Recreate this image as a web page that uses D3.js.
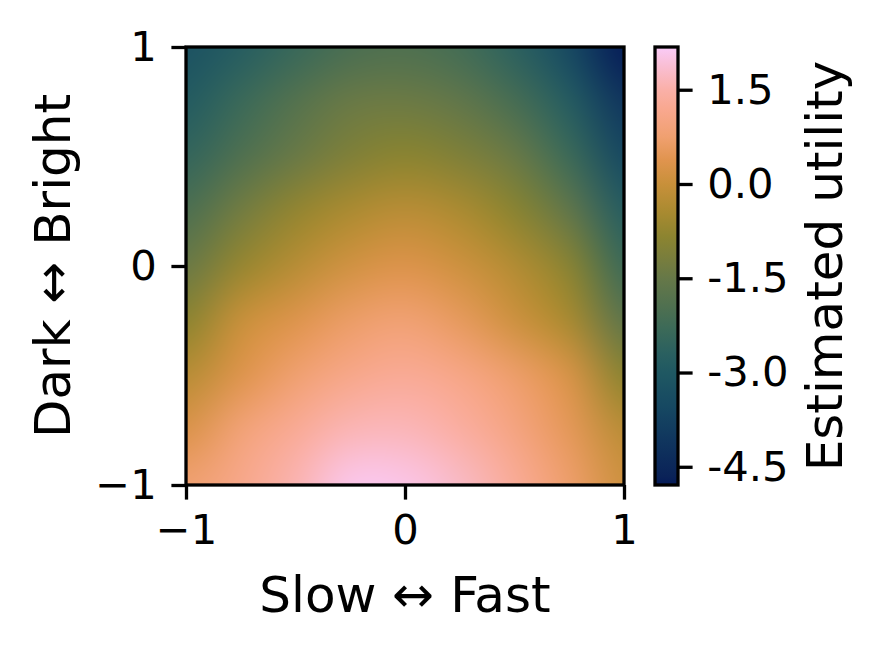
<!DOCTYPE html>
<html>
<head>
<meta charset="utf-8">
<script src="https://cdn.jsdelivr.net/npm/d3@7"></script>
<style>
  body { margin: 0; background: #fff; }
  svg { display: block; font-family: "DejaVu Sans", sans-serif; }
</style>
</head>
<body>
<svg width="882" height="651"></svg>
<script>
// grid of estimated utility, rows go from top (Bright) to bottom (Dark)
var xGrid = [-1, -0.75, -0.5, -0.25, 0, 0.25, 0.5, 0.75, 1];
var yGrid = [1, 0.75, 0.5, 0.25, 0, -0.25, -0.5, -0.75, -1];
var utility = [
    [-3.2, -2.8, -2.4, -2.05, -1.95, -2.15, -2.65, -3.5, -4.75],
    [-2.9, -2.35, -1.85, -1.45, -1.4, -1.6, -2.1, -2.85, -4.1],
    [-2.5, -1.95, -1.45, -1.05, -0.85, -1.05, -1.45, -2.3, -3.5],
    [-2.0, -1.3, -0.75, -0.4, -0.2, -0.4, -0.85, -1.6, -2.8],
    [-1.45, -0.7, -0.25, 0.15, 0.33, 0.1, -0.3, -0.9, -2.3],
    [-0.85, 0.0, 0.35, 0.65, 0.8, 0.55, 0.1, -0.45, -1.65],
    [-0.25, 0.35, 0.75, 1.12, 1.27, 1.08, 0.7, 0.25, -0.85],
    [0.3, 0.85, 1.27, 1.62, 1.66, 1.42, 1.0, 0.5, -0.2],
    [0.75, 1.12, 1.58, 2.08, 2.05, 1.76, 1.3, 0.7, 0.1]
];

// colour map (batlow-like)
var cmapValues = [-4.79, -4.66, -4.07, -3.55, -3.0, -2.7, -2.3, -1.95, -1.5, -1.16,
                  -0.84, -0.46, 0.0, 0.38, 0.75, 1.2, 1.5, 1.9, 2.18];
var cmapColors = ["#041a58", "#0a2258", "#10365e", "#164862", "#1f5862", "#2a6060",
                  "#3c6a58", "#4f7050", "#667848", "#7a7e3c", "#8c8430", "#a88a30",
                  "#c8903a", "#e0944e", "#f0a070", "#f9a890", "#fab0a8", "#f9bfd6", "#facbf8"];

var axisTicks = [-1, 0, 1];
var cbarTicks = [1.5, 0, -1.5, -3, -4.5];
var cbarRange = [-4.79, 2.18];

var plot = { left: 186, right: 624, top: 47, bottom: 485 };
var cbar = { left: 655, right: 678 };
var lw = 3.3;
var tickLen = 14.6;
var tickFont = 41.7;
var labelFont = 50;

var svg = d3.select("svg");

var x = d3.scaleLinear().domain([-1, 1]).range([plot.left, plot.right]);
var y = d3.scaleLinear().domain([-1, 1]).range([plot.bottom, plot.top]);
var color = d3.scaleLinear()
    .domain(cmapValues)
    .range(cmapColors)
    .interpolate(d3.interpolateRgb)
    .clamp(true);

// heat map: one pixel per grid value, then smoothed when scaled up
var nx = xGrid.length, ny = yGrid.length;
var src = document.createElement("canvas");
src.width = nx;
src.height = ny;
var sctx = src.getContext("2d");
var img = sctx.createImageData(nx, ny);
utility.forEach(function (row, j) {
    row.forEach(function (v, i) {
        var c = d3.rgb(color(v));
        var k = 4 * (j * nx + i);
        img.data[k] = c.r;
        img.data[k + 1] = c.g;
        img.data[k + 2] = c.b;
        img.data[k + 3] = 255;
    });
});
sctx.putImageData(img, 0, 0);

var pw = x(xGrid[nx - 1]) - x(xGrid[0]);
var ph = y(yGrid[ny - 1]) - y(yGrid[0]);
var big = document.createElement("canvas");
big.width = Math.round(pw);
big.height = Math.round(ph);
var bctx = big.getContext("2d");
bctx.imageSmoothingEnabled = true;
bctx.imageSmoothingQuality = "high";
var cw = pw / (nx - 1), ch = ph / (ny - 1);
bctx.drawImage(src, -cw / 2, -ch / 2, pw + cw, ph + ch);

svg.append("image")
    .attr("x", x(-1))
    .attr("y", y(1))
    .attr("width", pw)
    .attr("height", ph)
    .attr("preserveAspectRatio", "none")
    .attr("href", big.toDataURL());

// axes
var xAxis = d3.axisBottom(x).tickValues(axisTicks).tickSize(tickLen).tickPadding(tickLen)
    .tickFormat(d3.format("d"));
var yAxis = d3.axisLeft(y).tickValues(axisTicks).tickSize(tickLen).tickPadding(tickLen)
    .tickFormat(d3.format("d"));

function styleAxis(g) {
    g.select(".domain").remove();
    g.selectAll(".tick line").attr("stroke", "#000").attr("stroke-width", lw);
    g.selectAll(".tick text")
        .attr("fill", "#000")
        .style("font-size", tickFont + "px")
        .style("font-family", "DejaVu Sans");
}

svg.append("g")
    .attr("transform", "translate(0," + plot.bottom + ")")
    .call(xAxis)
    .call(styleAxis);

svg.append("g")
    .attr("transform", "translate(" + plot.left + ",0)")
    .call(yAxis)
    .call(styleAxis);

svg.append("rect")
    .attr("x", plot.left)
    .attr("y", plot.top)
    .attr("width", plot.right - plot.left)
    .attr("height", plot.bottom - plot.top)
    .attr("fill", "none")
    .attr("stroke", "#000")
    .attr("stroke-width", lw);

svg.append("text")
    .attr("x", (plot.left + plot.right) / 2)
    .attr("y", 612)
    .attr("text-anchor", "middle")
    .style("font-size", labelFont + "px")
    .text("Slow \u2194 Fast");

svg.append("text")
    .attr("transform", "translate(70," + (plot.top + plot.bottom) / 2 + ") rotate(-90)")
    .attr("text-anchor", "middle")
    .style("font-size", labelFont + "px")
    .text("Dark \u2194 Bright");

// colour bar
var cy = d3.scaleLinear().domain(cbarRange).range([plot.bottom, plot.top]);

var grad = svg.append("defs").append("linearGradient")
    .attr("id", "cbar-grad")
    .attr("x1", 0).attr("y1", 1)
    .attr("x2", 0).attr("y2", 0);
grad.selectAll("stop")
    .data(cmapValues)
    .enter().append("stop")
    .attr("offset", function (d) { return (d - cbarRange[0]) / (cbarRange[1] - cbarRange[0]); })
    .attr("stop-color", function (d) { return color(d); });

svg.append("rect")
    .attr("x", cbar.left)
    .attr("y", plot.top)
    .attr("width", cbar.right - cbar.left)
    .attr("height", plot.bottom - plot.top)
    .attr("fill", "url(#cbar-grad)")
    .attr("stroke", "#000")
    .attr("stroke-width", lw);

var cAxis = d3.axisRight(cy).tickValues(cbarTicks).tickSize(tickLen).tickPadding(tickLen)
    .tickFormat(function (d) { return d.toFixed(1); });

svg.append("g")
    .attr("transform", "translate(" + cbar.right + ",0)")
    .call(cAxis)
    .call(styleAxis);

svg.append("text")
    .attr("transform", "translate(842," + (plot.top + plot.bottom) / 2 + ") rotate(-90)")
    .attr("text-anchor", "middle")
    .style("font-size", labelFont + "px")
    .text("Estimated utility");
</script>
</body>
</html>
